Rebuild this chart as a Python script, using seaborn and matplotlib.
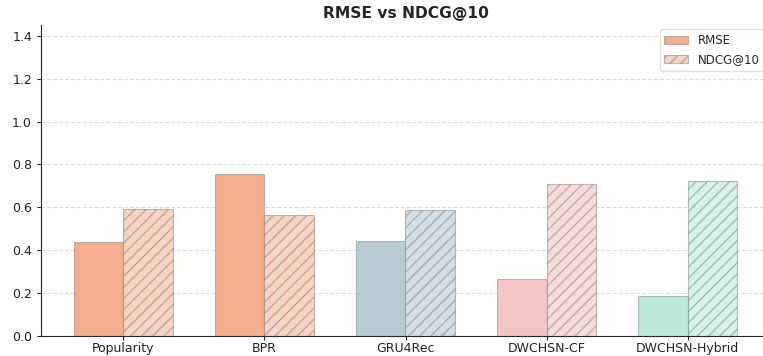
import matplotlib
matplotlib.use("Agg")
import matplotlib.pyplot as plt
import seaborn as sns
import pandas as pd
from matplotlib.patches import Patch

models = ["Popularity", "BPR", "GRU4Rec", "DWCHSN-CF", "DWCHSN-Hybrid"]
rmse = [0.44, 0.755, 0.445, 0.267, 0.187]
ndcg10 = [0.592, 0.566, 0.588, 0.709, 0.725]
metrics = ["RMSE", "NDCG@10"]

# per-model fill colours: solid for RMSE, lighter for NDCG@10
rmse_colors = ["#F2AE8E", "#F2AE8E", "#B8CBD3", "#F4C5C5", "#BDEBD9"]
ndcg_colors = ["#F7D3C2", "#F7D3C2", "#D3DFE5", "#F8DCDC", "#D6F3E7"]

df = pd.DataFrame({
    "model": models * 2,
    "metric": ["RMSE"] * len(models) + ["NDCG@10"] * len(models),
    "value": rmse + ndcg10,
})

sns.set_style("ticks")
plt.rcParams["font.family"] = ["DejaVu Sans"]

fig = plt.figure(figsize=(7.63, 3.56), dpi=100)
ax = fig.add_axes([41 / 763, 20 / 356, 729 / 763, 311 / 356])

sns.barplot(data=df, x="model", y="value", hue="metric", order=models,
            hue_order=metrics, width=0.7, errorbar=None, ax=ax, legend=False)

edge = (0.45, 0.45, 0.45, 0.45)
for bar, c in zip(ax.containers[0], rmse_colors):
    bar.set_facecolor(c)
    bar.set_edgecolor(edge)
    bar.set_linewidth(0.8)
for bar, c in zip(ax.containers[1], ndcg_colors):
    bar.set_facecolor(c)
    bar.set_edgecolor(edge)
    bar.set_linewidth(0.8)
    bar.set_hatch("///")

ax.set_xlim(-0.585, len(models) - 1 + 0.585)
ax.set_ylim(0, 1.45)
ax.set_yticks([0.0, 0.2, 0.4, 0.6, 0.8, 1.0, 1.2, 1.4])
ax.set_xlabel("")
ax.set_ylabel("")
ax.tick_params(axis="both", labelsize=9, length=3, colors="#222222")
ax.tick_params(axis="x", pad=1.5)
ax.yaxis.grid(True, linestyle="--", color="#dddddd", linewidth=0.8)
ax.set_axisbelow(True)
sns.despine(ax=ax)
ax.set_title("RMSE vs NDCG@10", fontsize=11.2, fontweight="bold", pad=5)

handles = [
    Patch(facecolor=rmse_colors[0], edgecolor=edge, linewidth=0.8, label="RMSE"),
    Patch(facecolor=ndcg_colors[0], edgecolor=edge, linewidth=0.8, hatch="///", label="NDCG@10"),
]
ax.legend(handles=handles, loc="upper right", bbox_to_anchor=(1.0, 1.005),
          fontsize=8.5, frameon=True, framealpha=0.9, edgecolor="#dddddd")

fig.savefig("out.png", dpi=100)
